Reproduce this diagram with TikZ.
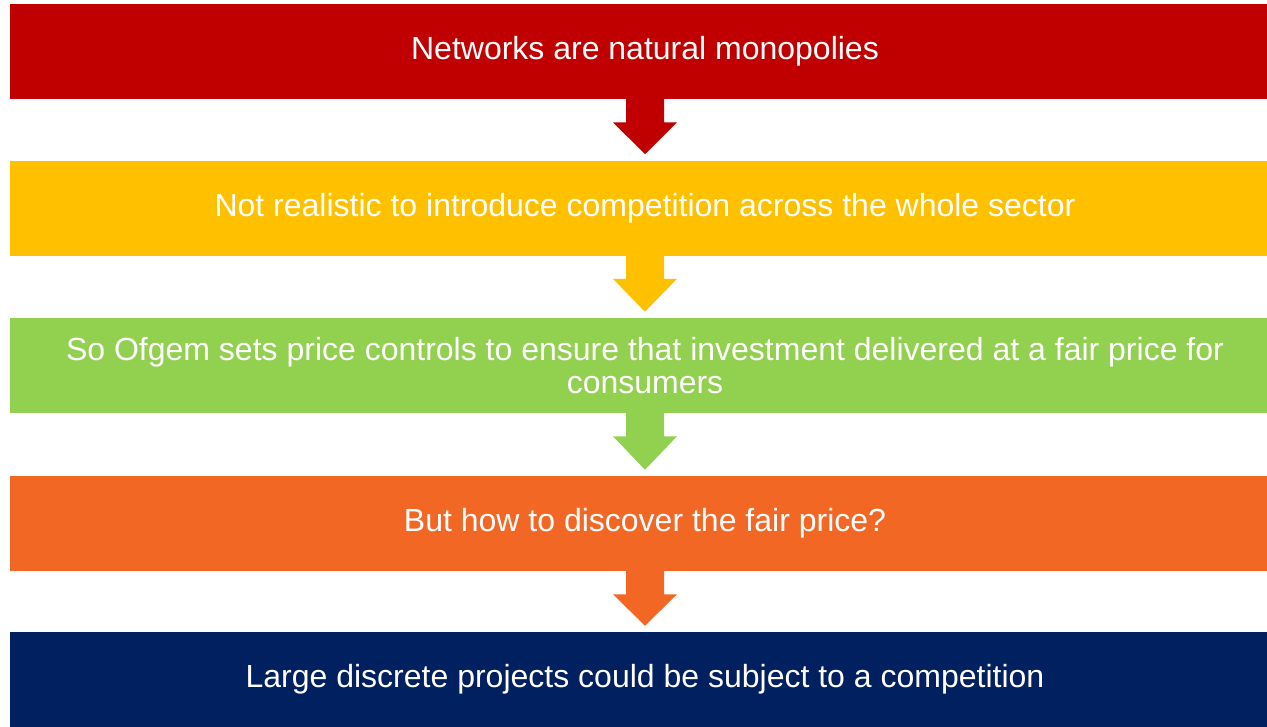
\documentclass[tikz,border=0pt]{standalone}
\usepackage{fontspec}
\setmainfont{Liberation Sans}
\usepackage{tikz}
\usetikzlibrary{calc}

\definecolor{boxred}{RGB}{192,0,0}
\definecolor{boxyellow}{RGB}{255,192,0}
\definecolor{boxgreen}{RGB}{146,208,80}
\definecolor{boxorange}{RGB}{243,103,36}
\definecolor{boxnavy}{RGB}{0,32,96}

\tikzset{
  flowbox/.style={rectangle, draw=none, text=white, inner sep=0pt,
    minimum width=952.5pt, minimum height=71.25pt, text width=877pt,
    align=flush center, font=\fontsize{24}{25}\selectfont}
}

% block arrow from the bottom of one box to the top of the next
\newcommand{\flowarrow}[3]{%
  \fill[#3] ($(#1.south)+(-19,-1)$) -- ($(#1.south)+(-19,23)$) -- ($(#1.south)+(-32,23)$)
    -- ($(#2.north)+(0,-6)$) -- ($(#1.south)+(32,23)$) -- ($(#1.south)+(19,23)$)
    -- ($(#1.south)+(19,-1)$) -- cycle ;}

\begin{document}
\begin{tikzpicture}[x=0.75pt,y=0.75pt,yscale=-1,xscale=1]
\clip (0,0) rectangle (1267,726);
\fill[white] (0,0) rectangle (1267,726);
\node[flowbox, fill=boxred] (mono) at (645,51.5) {Networks are natural monopolies};
\node[flowbox, fill=boxyellow] (comp) at (645,208) {Not realistic to introduce competition across the whole sector};
\node[flowbox, fill=boxgreen] (ctrl) at (645,365.5) {So Ofgem sets price controls to ensure that investment delivered at a fair price for\\consumers};
\node[flowbox, fill=boxorange] (fair) at (645,523.5) {But how to discover the fair price?};
\node[flowbox, fill=boxnavy] (proj) at (645,679.5) {Large discrete projects could be subject to a competition};
\flowarrow{mono}{comp}{boxred}
\flowarrow{comp}{ctrl}{boxyellow}
\flowarrow{ctrl}{fair}{boxgreen}
\flowarrow{fair}{proj}{boxorange}
\end{tikzpicture}
\end{document}
